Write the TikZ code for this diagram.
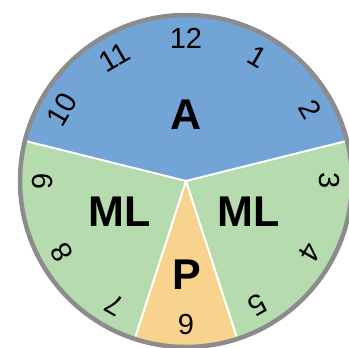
\documentclass[tikz,border=0pt]{standalone}
\usepackage{fontspec}
\setmainfont{Liberation Sans}
\definecolor{ablue}{HTML}{72A4D5}
\definecolor{mlgreen}{HTML}{B6DBAE}
\definecolor{porange}{HTML}{F7D38E}
\definecolor{rimgray}{HTML}{8C8C8C}
\begin{document}
\begin{tikzpicture}[x=1pt,y=1pt,
  hour/.style={font=\fontsize{29}{29}\selectfont, inner sep=0pt},
  sector/.style={font=\fontsize{43}{43}\selectfont\bfseries, inner sep=0pt},
  sepline/.style={draw=white, line width=2pt},
  rim/.style={draw=rimgray, line width=4.5pt}]
\useasboundingbox (0,0) rectangle (349,348);
\coordinate (c) at (186,167);
% sectors
\fill[ablue] (c) -- ++(14:166) arc[start angle=14, end angle=166, radius=166] -- cycle;
\fill[mlgreen] (c) -- ++(166:166) arc[start angle=166, end angle=252, radius=166] -- cycle;
\fill[porange] (c) -- ++(252:166) arc[start angle=252, end angle=288, radius=166] -- cycle;
\fill[mlgreen] (c) -- ++(288:166) arc[start angle=288, end angle=374, radius=166] -- cycle;
% separator end points
\path (c) ++(14:166) coordinate (e1);
\path (c) ++(166:166) coordinate (e2);
\path (c) ++(252:166) coordinate (e3);
\path (c) ++(288:166) coordinate (e4);
\draw[sepline] (c) -- (e1);
\draw[sepline] (c) -- (e2);
\draw[sepline] (c) -- (e3);
\draw[sepline] (c) -- (e4);
% rim
\draw[rim] (c) circle[radius=166];
% hours
\foreach \h in {1,...,12}{
  \path (c) ++({90-30*\h}:143) node[hour, rotate={-30*\h}] (h\h) {\h};
}
% sector labels
\node[sector] (A) at (186,233) {A};
\node[sector] (MLl) at (119.5,136) {ML};
\node[sector] (MLr) at (249,136) {ML};
\node[sector] (P) at (187,73) {P};
\end{tikzpicture}
\end{document}
